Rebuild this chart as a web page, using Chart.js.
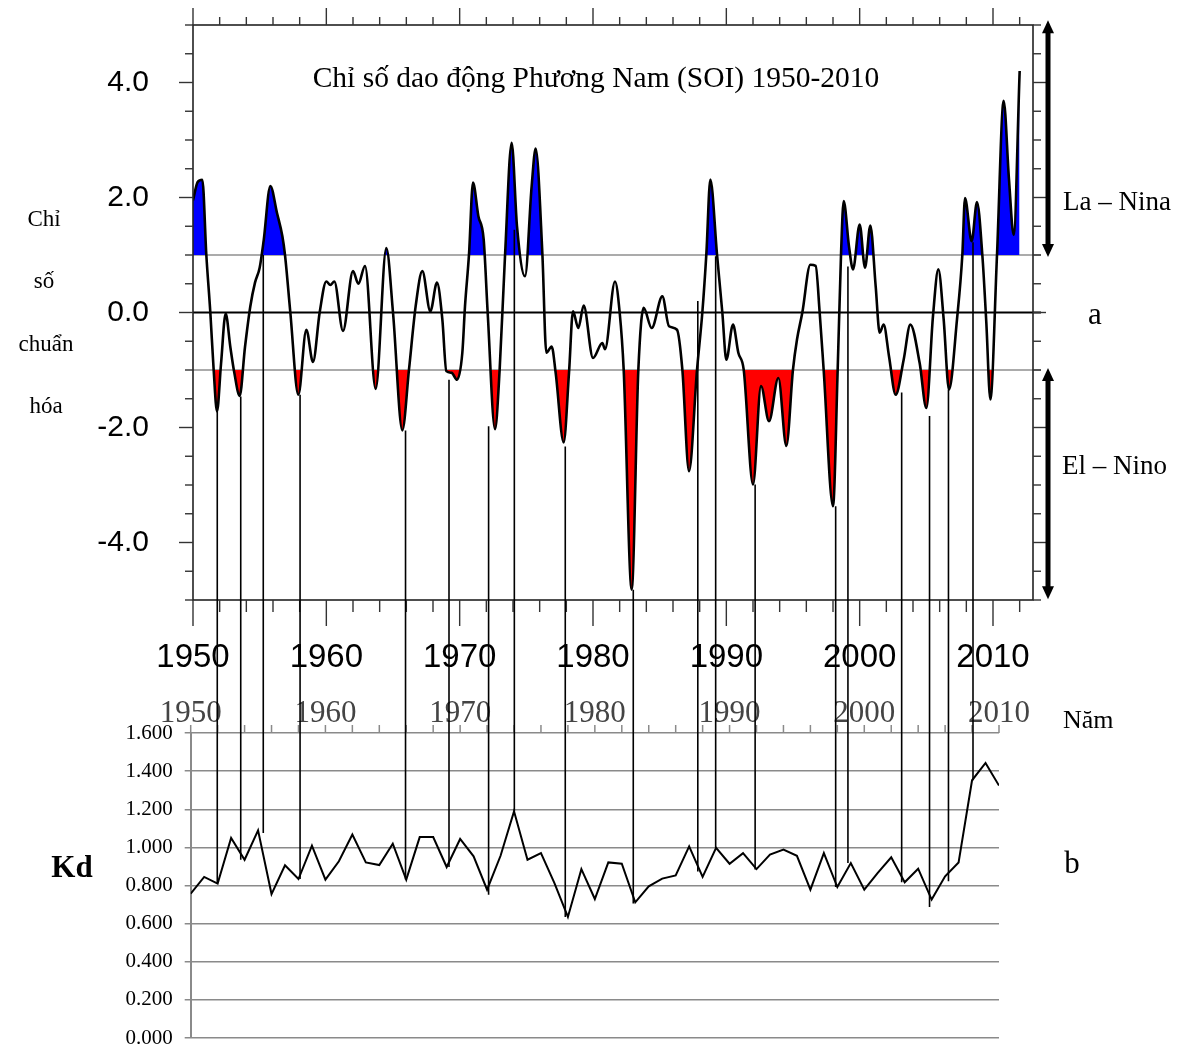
<!DOCTYPE html>
<html><head><meta charset="utf-8">
<script src="https://cdn.jsdelivr.net/npm/chart.js@4.4.1/dist/chart.umd.min.js"></script>
<style>
html,body{margin:0;padding:0;background:#fff;}
#wrap{position:relative;width:1179px;height:1051px;overflow:hidden;background:#fff;}
canvas{position:absolute;left:0;top:0;}
.t{position:absolute;white-space:nowrap;font-family:'Liberation Serif','DejaVu Serif',serif;color:#000;line-height:1;z-index:5;}
.c{transform:translate(-50%,-50%);}
.l{transform:translate(0,-50%);}
</style></head><body>
<div id="wrap">
<canvas id="soi" width="1179" height="1051"></canvas>
<canvas id="kd" width="1179" height="1051"></canvas>
<div class="t c" style="left:596px;top:78px;font-size:29.5px">Chỉ số dao động Phương Nam (SOI) 1950-2010</div>
<div class="t l" style="left:1063px;top:201px;font-size:27px">La – Nina</div>
<div class="t c" style="left:1095px;top:313px;font-size:31px">a</div>
<div class="t l" style="left:1062px;top:465px;font-size:27px">El – Nino</div>
<div class="t l" style="left:1063px;top:720px;font-size:26px">Năm</div>
<div class="t c" style="left:1072px;top:862px;font-size:31px">b</div>
<div class="t c" style="left:44px;top:218px;font-size:23px">Chỉ</div>
<div class="t c" style="left:44px;top:280px;font-size:23px">số</div>
<div class="t c" style="left:46px;top:343px;font-size:23px">chuẩn</div>
<div class="t c" style="left:46px;top:405px;font-size:23px">hóa</div>
<div class="t c" style="left:72px;top:866px;font-size:31px;font-weight:bold">Kd</div>
</div>
<script>
// ---------- DATA ----------
const soiYears = [1950.0,1950.35,1950.7,1951.0,1951.3,1951.55,1951.8,1952.1,1952.45,1952.8,1953.1,1953.5,1953.9,1954.3,1954.65,1955.0,1955.3,1955.8,1956.3,1956.7,1956.9,1957.3,1957.9,1958.5,1959.0,1959.5,1960.0,1960.3,1960.6,1961.25,1962.0,1962.4,1962.9,1963.7,1964.5,1965.0,1965.7,1966.2,1966.7,1967.2,1967.8,1968.3,1968.7,1969.0,1969.4,1969.8,1970.2,1970.4,1970.7,1971.0,1971.4,1971.8,1972.1,1972.65,1973.0,1973.4,1973.9,1974.3,1974.9,1975.4,1975.7,1976.2,1976.5,1976.9,1977.2,1977.8,1978.2,1978.5,1978.9,1979.3,1980.0,1980.7,1980.9,1981.65,1982.0,1982.3,1982.9,1983.4,1983.8,1984.4,1985.2,1985.7,1986.3,1986.7,1987.2,1987.8,1988.2,1988.5,1988.8,1989.3,1989.7,1990.0,1990.5,1990.9,1991.3,1992.0,1992.6,1993.2,1993.9,1994.5,1995.0,1995.3,1995.7,1996.3,1996.7,1997.0,1997.3,1998.0,1998.35,1998.6,1998.8,1999.2,1999.5,2000.0,2000.4,2000.8,2001.2,2001.5,2001.8,2002.2,2002.7,2003.3,2003.8,2004.5,2005.0,2005.5,2005.9,2006.3,2006.7,2007.3,2007.7,2007.9,2008.4,2008.8,2009.2,2009.5,2009.8,2010.3,2010.8,2011.2,2011.55,2012.0];
const soiValues = [1.95,2.27,2.31,1.0,0.0,-1.0,-1.72,-0.9,-0.02,-0.6,-1.05,-1.45,-0.6,0.11,0.52,0.78,1.25,2.20,1.73,1.33,1.0,0.0,-1.43,-0.30,-0.86,0.0,0.54,0.48,0.54,-0.32,0.72,0.50,0.81,-1.33,1.12,0.0,-2.05,-0.99,0.11,0.72,0.02,0.52,-0.12,-1.02,-1.05,-1.17,-0.70,0.11,1.01,2.26,1.68,1.27,0.0,-2.03,-0.99,0.98,2.95,1.50,0.63,2.20,2.85,1.04,-0.70,-0.59,-1.05,-2.26,-1.05,0.02,-0.27,0.12,-0.79,-0.53,-0.64,0.54,0.0,-0.99,-4.82,-1.0,0.08,-0.27,0.28,-0.24,-0.30,-0.99,-2.76,-1.0,0.0,1.01,2.31,1.01,0.0,-0.82,-0.21,-0.70,-0.99,-2.99,-1.28,-1.89,-1.14,-2.32,-0.99,-0.47,0.0,0.83,0.81,0.0,-1.0,-3.37,-1.0,1.0,1.94,1.15,0.75,1.53,0.78,1.51,0.46,-0.35,-0.21,-0.76,-1.43,-0.82,-0.21,-0.88,-1.66,-0.06,0.75,-0.12,-1.34,-0.12,1.0,1.99,1.24,1.92,1.0,-0.18,-1.51,1.0,3.68,2.31,1.35,4.2];

const kdYears = [1950,1951,1952,1953,1954,1955,1956,1957,1958,1959,1960,1961,1962,1963,1964,1965,1966,1967,1968,1969,1970,1971,1972,1973,1974,1975,1976,1977,1978,1979,1980,1981,1982,1983,1984,1985,1986,1987,1988,1989,1990,1991,1992,1993,1994,1995,1996,1997,1998,1999,2000,2001,2002,2003,2004,2005,2006,2007,2008,2009,2010];
const kdValues = [0.757,0.845,0.810,1.049,0.935,1.089,0.755,0.906,0.834,1.009,0.831,0.927,1.067,0.921,0.907,1.019,0.831,1.054,1.054,0.897,1.044,0.953,0.778,0.956,1.189,0.935,0.970,0.813,0.635,0.886,0.729,0.921,0.914,0.712,0.796,0.836,0.853,1.005,0.845,0.997,0.914,0.970,0.886,0.962,0.988,0.956,0.778,0.970,0.792,0.918,0.778,0.866,0.948,0.817,0.888,0.726,0.848,0.921,1.352,1.443,1.324];

// vertical connectors: year (on SOI axis), SOI value at top end, Kd value at bottom end
const connYears = [1951.82,1953.58,1955.27,1958.03,1965.94,1969.2,1972.17,1974.1,1977.92,1983.02,1987.86,1989.2,1992.16,1998.2,1999.12,2003.15,2005.24,2006.66,2008.5];
const connSoi   = [-1.72,-1.46,1.0,-1.43,-2.05,-1.17,-1.98,1.44,-2.33,-4.82,0.2,0.98,-2.99,-3.37,0.8,-1.39,-1.80,-1.34,1.22];
const connKd    = [0.81,0.935,1.075,0.834,0.831,0.897,0.752,1.189,0.635,0.705,0.874,0.997,0.884,0.792,0.918,0.817,0.687,0.822,1.352];

const yearTicks = [1950,1960,1970,1980,1990,2000,2010];
const soiYTicks = [-4,-2,0,2,4];
const kdYTicks = [0,0.2,0.4,0.6,0.8,1.0,1.2,1.4,1.6];
const laNinaThreshold = 1;
const elNinoThreshold = -1;

// ---------- CHART A: SOI ----------
const soiPts = soiYears.map((x,i)=>({x, y: soiValues[i]}));
function line(ctx,x1,y1,x2,y2){ctx.beginPath();ctx.moveTo(x1,y1);ctx.lineTo(x2,y2);ctx.stroke();}
function noPad(s){ s.paddingTop = 0; s.paddingBottom = 0; s.paddingLeft = 0; s.paddingRight = 0; }

const soiDecor = {
  id:'soiDecor',
  beforeDatasetsDraw(chart){
    const {ctx, chartArea:a, scales:{y}} = chart;
    ctx.save();
    ctx.lineWidth = 1.5; ctx.strokeStyle = '#8f8f8f';
    [laNinaThreshold, elNinoThreshold].forEach(v=>{const py=y.getPixelForValue(v); line(ctx,a.left,py,a.right+8,py);});
    ctx.strokeStyle = '#000'; ctx.lineWidth = 2;
    const p0 = y.getPixelForValue(0); line(ctx,a.left,p0,a.right+8,p0);
    ctx.restore();
  },
  afterDraw(chart){
    const {ctx, chartArea:a, scales:{x,y}} = chart;
    ctx.save();
    ctx.strokeStyle = '#222'; ctx.lineWidth = 1.6;
    ctx.strokeRect(a.left, a.top, a.right-a.left, a.bottom-a.top);
    ctx.strokeStyle = '#333'; ctx.lineWidth = 1.4;
    for (let yr = 1950; yr <= 2012; yr += 2) {
      const px = x.getPixelForValue(yr), major = yr % 10 === 0;
      line(ctx, px, a.bottom, px, a.bottom + (major ? 26 : 12));
      line(ctx, px, a.top, px, a.top - (major ? 17 : 8));
    }
    for (let k = -10; k <= 10; k++) {
      const v = k * 0.5, py = y.getPixelForValue(v), major = (k % 4 === 0);
      line(ctx, a.left, py, a.left - (major ? 14 : 8), py);
      line(ctx, a.right, py, a.right + (major ? 13 : 8), py);
    }
    // La Nina / El Nino arrows
    const ax = a.right + 15;
    function arrow(v1, v2){
      const y1 = y.getPixelForValue(v1), y2 = y.getPixelForValue(v2);
      ctx.strokeStyle = '#000'; ctx.fillStyle = '#000'; ctx.lineWidth = 5;
      line(ctx, ax, y1 + 8, ax, y2 - 8);
      ctx.beginPath(); ctx.moveTo(ax, y1 - 2); ctx.lineTo(ax - 6, y1 + 11); ctx.lineTo(ax + 6, y1 + 11); ctx.closePath(); ctx.fill();
      ctx.beginPath(); ctx.moveTo(ax, y2 + 2); ctx.lineTo(ax - 6, y2 - 11); ctx.lineTo(ax + 6, y2 - 11); ctx.closePath(); ctx.fill();
    }
    arrow(5.05, laNinaThreshold);
    arrow(elNinoThreshold, -4.95);
    ctx.restore();
  }
};

const soiChart = new Chart(document.getElementById('soi'), {
  type: 'line',
  data: { datasets: [
    { data: soiPts, borderColor:'#000', borderWidth:2.6, pointRadius:0, fill:false, cubicInterpolationMode:'monotone' },
    { data: soiPts, borderWidth:0, borderColor:'rgba(0,0,0,0)', pointRadius:0, cubicInterpolationMode:'monotone',
      fill:{ target:{value: laNinaThreshold}, above:'#0000ff', below:'rgba(0,0,0,0)' } },
    { data: soiPts, borderWidth:0, borderColor:'rgba(0,0,0,0)', pointRadius:0, cubicInterpolationMode:'monotone',
      fill:{ target:{value: elNinoThreshold}, above:'rgba(0,0,0,0)', below:'#ff0000' } }
  ]},
  options: {
    responsive:false, animation:false, devicePixelRatio:1,
    layout:{ padding:{ left:0, top:25, right:146, bottom:371 } },
    plugins:{ legend:{display:false}, tooltip:{enabled:false}, title:{display:false} },
    scales:{
      x:{ type:'linear', min:1950, max:2013, position:'bottom',
          grid:{display:false}, border:{display:false},
          afterBuildTicks:s=>{ s.ticks = yearTicks.map(v=>({value:v})); },
          afterFit:s=>{ s.height = 80; noPad(s); },
          ticks:{ autoSkip:false, maxRotation:0, padding:30, color:'#000',
                  font:{ family:"'Liberation Sans',Arial,sans-serif", size:33 },
                  callback:v=>String(v) } },
      y:{ type:'linear', min:-5, max:5,
          grid:{display:false}, border:{display:false},
          afterBuildTicks:s=>{ s.ticks = soiYTicks.map(v=>({value:v})); },
          afterFit:s=>{ s.width = 193; noPad(s); },
          ticks:{ padding:36, color:'#000', font:{ family:"'Liberation Sans',Arial,sans-serif", size:30 },
                  callback:v=>v.toFixed(1) } }
    }
  },
  plugins:[soiDecor]
});

// ---------- CHART B: Kd ----------
const kdPts = kdYears.map((x,i)=>({x, y: kdValues[i]}));
const kdDecor = {
  id:'kdDecor',
  afterDraw(chart){
    const {ctx, chartArea:a, scales:{x,y}} = chart;
    ctx.save();
    ctx.strokeStyle = '#8a8a8a'; ctx.lineWidth = 1.5;
    for (let yr = 1950; yr <= 2010; yr += 2) {
      const px = x.getPixelForValue(yr);
      line(ctx, px, a.top, px, a.top - 8);
    }
    // connectors from SOI extremes to Kd curve
    const sx = soiChart.scales.x, sy = soiChart.scales.y;
    ctx.strokeStyle = '#000'; ctx.lineWidth = 1.6;
    connYears.forEach((yr,i)=>{
      const px = sx.getPixelForValue(yr);
      line(ctx, px, sy.getPixelForValue(connSoi[i]), px, y.getPixelForValue(connKd[i]));
    });
    ctx.restore();
  }
};

new Chart(document.getElementById('kd'), {
  type:'line',
  data:{ datasets:[ { data:kdPts, borderColor:'#000', borderWidth:2, pointRadius:0, fill:false, tension:0 } ] },
  options:{
    responsive:false, animation:false, devicePixelRatio:1,
    layout:{ padding:{ left:0, top:688, right:180, bottom:13 } },
    plugins:{ legend:{display:false}, tooltip:{enabled:false} },
    scales:{
      x:{ type:'linear', min:1950, max:2010, position:'top',
          grid:{display:false}, border:{display:false},
          afterBuildTicks:s=>{ s.ticks = yearTicks.map(v=>({value:v})); },
          afterFit:s=>{ s.height = 45; noPad(s); },
          ticks:{ autoSkip:false, maxRotation:0, padding:-7, color:'#444',
                  font:{ family:"'Liberation Serif','Times New Roman',serif", size:31 },
                  callback:v=>String(v) } },
      y:{ type:'linear', min:0, max:1.6,
          grid:{ color:'#8a8a8a', lineWidth:1.5, tickLength:6, drawTicks:true },
          border:{ display:true, color:'#8a8a8a', width:2 },
          afterBuildTicks:s=>{ s.ticks = kdYTicks.map(v=>({value:v})); },
          afterFit:s=>{ s.width = 190.7; noPad(s); },
          ticks:{ padding:12, color:'#000', font:{ family:"'Liberation Serif','Times New Roman',serif", size:21 },
                  callback:v=>v.toFixed(3) } }
    }
  }
  ,plugins:[kdDecor]
});
</script>
</body></html>
